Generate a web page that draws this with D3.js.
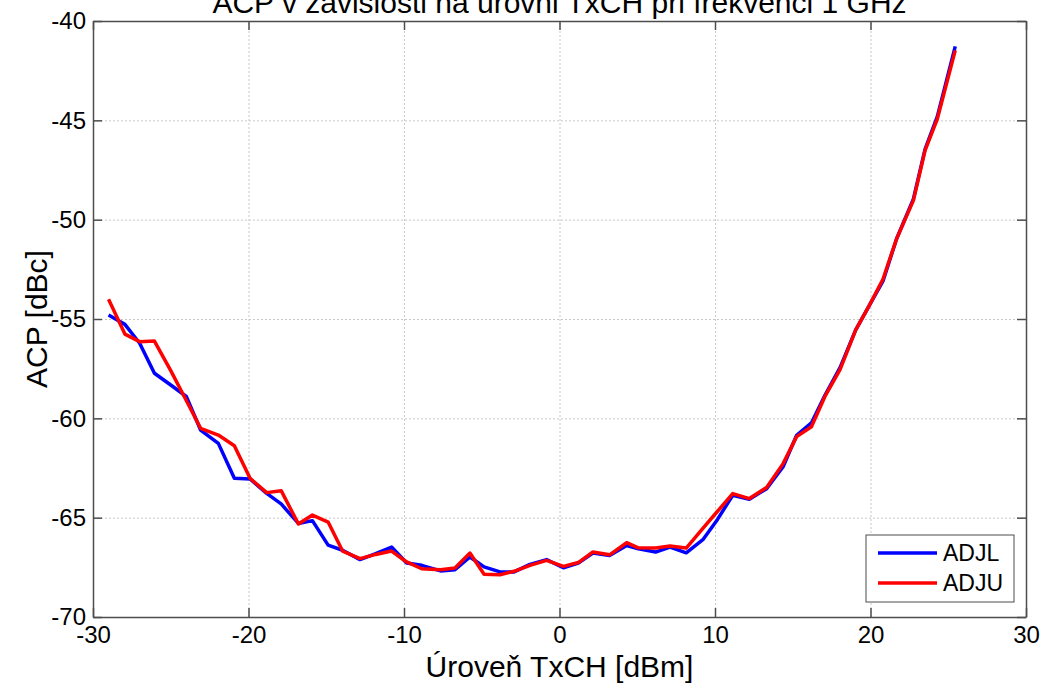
<!DOCTYPE html>
<html>
<head>
<meta charset="utf-8">
<script src="https://cdn.jsdelivr.net/npm/d3@7"></script>
<style>
	body { margin: 0; background: #fff; }
	svg { display: block; font-family: Arial, "Liberation Sans", Helvetica, sans-serif; }
</style>
</head>
<body>
<script>
// úroveň TxCH [dBm]
const txLevels = [
	-29.0, -27.95, -27.0, -26.05, -25.0, -24.0, -23.08, -21.94, -20.91, -19.9,
	-18.83, -17.9, -16.79, -15.89, -14.88, -13.95, -12.83, -11.82, -10.8, -9.83,
	-8.86, -7.65, -6.72, -5.76, -4.85, -3.83, -2.92, -1.9, -0.83, 0.25,
	1.21, 2.15, 3.22, 4.32, 5.07, 6.18, 7.11, 8.15, 9.22, 10.15,
	11.14, 12.21, 13.32, 14.38, 15.25, 16.2, 17.07, 18.04, 19.05, 19.9,
	20.8, 21.68, 22.76, 23.51, 24.3, 25.45
];

// ACP [dBc]
const adjl = [
	-54.80, -55.27, -56.22, -57.73, -58.32, -58.90, -60.59, -61.26, -63.02, -63.05,
	-63.78, -64.31, -65.29, -65.15, -66.38, -66.64, -67.11, -66.81, -66.48, -67.28,
	-67.40, -67.68, -67.62, -66.98, -67.48, -67.73, -67.73, -67.35, -67.11, -67.52,
	-67.28, -66.78, -66.90, -66.40, -66.57, -66.73, -66.48, -66.77, -66.11, -65.10,
	-63.87, -64.07, -63.54, -62.44, -60.85, -60.23, -58.84, -57.45, -55.55, -54.35,
	-53.10, -50.96, -48.95, -46.45, -44.80, -41.28
];

const adju = [
	-54.01, -55.76, -56.14, -56.11, -57.60, -59.10, -60.50, -60.84, -61.38, -63.02,
	-63.74, -63.64, -65.32, -64.87, -65.22, -66.68, -67.06, -66.85, -66.68, -67.23,
	-67.57, -67.62, -67.53, -66.78, -67.85, -67.87, -67.70, -67.40, -67.15, -67.45,
	-67.26, -66.73, -66.87, -66.26, -66.52, -66.53, -66.43, -66.53, -65.54, -64.69,
	-63.79, -64.04, -63.48, -62.28, -60.92, -60.42, -58.90, -57.55, -55.55, -54.35,
	-53.00, -50.96, -49.03, -46.51, -44.92, -41.48
];

const seriesNames = ["ADJL", "ADJU"];
const seriesColors = ["#0000ff", "#ff0000"];
const xTicks = [-30, -20, -10, 0, 10, 20, 30];
const yTicks = [-70, -65, -60, -55, -50, -45, -40];

const margin = { top: 21, right: 20, bottom: 67, left: 93 };
const width = 1046 - margin.left - margin.right;
const height = 684 - margin.top - margin.bottom;

const svg = d3.select("body").append("svg")
	.attr("width", 1046)
	.attr("height", 684);

const g = svg.append("g")
	.attr("transform", `translate(${margin.left},${margin.top})`);

const xScale = d3.scaleLinear().domain([-30, 30]).range([0, width]);
const yScale = d3.scaleLinear().domain([-70, -40]).range([height, 0]);

// mřížka
const grid = g.append("g").attr("class", "grid");
grid.append("g")
	.attr("transform", `translate(0,${height})`)
	.call(d3.axisBottom(xScale).tickValues(xTicks).tickSize(-height).tickFormat(""));
grid.append("g")
	.call(d3.axisLeft(yScale).tickValues(yTicks).tickSize(-width).tickFormat(""));
grid.selectAll(".domain").remove();
grid.selectAll("line")
	.attr("stroke", "#c8c8c8")
	.attr("stroke-width", 1)
	.attr("stroke-dasharray", "2,2");

// osy
const axisColor = "#4d4d4d";
const tickFmt = d => String(d);

const xAxis = g.append("g")
	.attr("transform", `translate(0,${height})`)
	.call(d3.axisBottom(xScale).tickValues(xTicks).tickSizeInner(-9).tickSizeOuter(0).tickPadding(9).tickFormat(tickFmt));
const yAxis = g.append("g")
	.call(d3.axisLeft(yScale).tickValues(yTicks).tickSizeInner(-9).tickSizeOuter(0).tickPadding(7).tickFormat(tickFmt));
const xTop = g.append("g")
	.call(d3.axisTop(xScale).tickValues(xTicks).tickSizeInner(-9).tickSizeOuter(0).tickFormat(""));
const yRight = g.append("g")
	.attr("transform", `translate(${width},0)`)
	.call(d3.axisRight(yScale).tickValues(yTicks).tickSizeInner(-9).tickSizeOuter(0).tickFormat(""));

[xAxis, yAxis, xTop, yRight].forEach(a => {
	a.selectAll("line").attr("stroke", axisColor).attr("stroke-width", 1.5);
	a.select(".domain").attr("stroke", axisColor).attr("stroke-width", 1.5);
	a.selectAll("text")
		.attr("fill", "#000")
		.style("font-size", "24px")
		.style("font-family", "Arial, 'Liberation Sans', sans-serif");
});

// křivky
const line = d3.line()
	.x((d, i) => xScale(txLevels[i]))
	.y(d => yScale(d));

[adjl, adju].forEach((values, k) => {
	g.append("path")
		.datum(values)
		.attr("fill", "none")
		.attr("stroke", seriesColors[k])
		.attr("stroke-width", 3.5)
		.attr("stroke-linejoin", "round")
		.attr("d", line);
});

// popisky
svg.append("text")
	.attr("x", margin.left + width / 2)
	.attr("y", 13)
	.attr("text-anchor", "middle")
	.attr("font-size", "30px")
	.attr("fill", "#000")
	.text("ACP v závislosti na úrovni TxCH při frekvenci 1 GHz");

svg.append("text")
	.attr("x", margin.left + width / 2)
	.attr("y", 677)
	.attr("text-anchor", "middle")
	.attr("font-size", "30px")
	.attr("fill", "#000")
	.text("Úroveň TxCH [dBm]");

svg.append("text")
	.attr("transform", `translate(47,${margin.top + height / 2}) rotate(-90)`)
	.attr("text-anchor", "middle")
	.attr("font-size", "30px")
	.attr("fill", "#000")
	.text("ACP [dBc]");

// legenda
const legend = svg.append("g")
	.attr("transform", "translate(866,535)");

legend.append("rect")
	.attr("width", 148)
	.attr("height", 67)
	.attr("fill", "#fff")
	.attr("stroke", axisColor)
	.attr("stroke-width", 1);

seriesNames.forEach((name, i) => {
	legend.append("line")
		.attr("x1", 12)
		.attr("x2", 71)
		.attr("y1", 18 + i * 30)
		.attr("y2", 18 + i * 30)
		.attr("stroke", seriesColors[i])
		.attr("stroke-width", 3.5);

	legend.append("text")
		.attr("x", 77)
		.attr("y", 26 + i * 30)
		.attr("font-size", "23px")
		.attr("fill", "#000")
		.text(name);
});
</script>
</body>
</html>
